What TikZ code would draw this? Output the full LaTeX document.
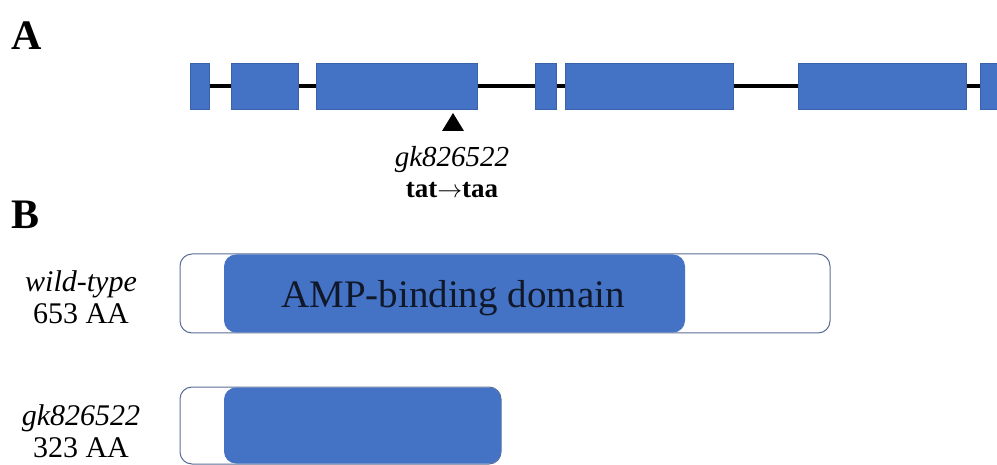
\documentclass[tikz,border=0pt]{standalone}
\usepackage{fontspec}
\setmainfont{Liberation Serif}
\definecolor{exblue}{HTML}{4472C4}
\definecolor{exedge}{HTML}{3A62AA}
\definecolor{protedge}{HTML}{5B6D94}
\definecolor{amptext}{HTML}{10182A}
\begin{document}
\begin{tikzpicture}[x=1pt,y=-1pt,
  exon/.style={fill=exblue,draw=exedge,line width=0.8pt},
  intron/.style={line width=4pt,black},
  protbox/.style={draw=protedge,fill=white,line width=1pt,rounded corners=12pt},
  dombox/.style={fill=exblue,rounded corners=12pt},
  lbl/.style={font=\fontsize{30}{32}\selectfont,align=center,inner sep=0pt},
  panel/.style={font=\fontsize{42}{44}\selectfont\bfseries,anchor=base west,inner sep=0pt}]
\useasboundingbox (0,0) rectangle (997,465);
% panel letters
\node[panel] (pA) at (11,50) {A};
\node[panel] (pB) at (11,229) {B};
% gene model
\coordinate (lstart) at (200,86);
\coordinate (lend) at (997,86);
\draw[intron] (lstart) -- (lend);
\draw[exon] (190,63) rectangle (209,109);
\draw[exon] (231,63) rectangle (298,109);
\draw[exon] (316,63) rectangle (477,109);
\draw[exon] (535,63) rectangle (556,109);
\draw[exon] (565,63) rectangle (733,109);
\draw[exon] (798,63) rectangle (966,109);
\draw[exon] (980,63) rectangle (1000,109);
% mutation marker
\fill[black] (453,113) -- (464,131) -- (442,131) -- cycle;
\node[font=\fontsize{29}{31}\selectfont,inner sep=0pt] (mut) at (452,160) {\itshape gk826522};
\node[font=\fontsize{27}{29}\selectfont\bfseries,inner sep=0pt] (chg) at (452,190) {tat$\rightarrow$taa};
% proteins
\node[lbl] (wtl) at (81,297) {\itshape wild-type\\653 AA};
\node[lbl] (mtl) at (81,431) {\itshape gk826522\\323 AA};
\draw[protbox] (180,254) rectangle (830,333);
\fill[dombox] (224,254.5) rectangle (685,332.5);
\node[font=\fontsize{39}{41}\selectfont,text=amptext] (amp) at (453,298) {AMP-binding domain};
\draw[protbox] (180,387) rectangle (501,464);
\fill[dombox] (224,387.5) rectangle (501,463.5);
\end{tikzpicture}
\end{document}
